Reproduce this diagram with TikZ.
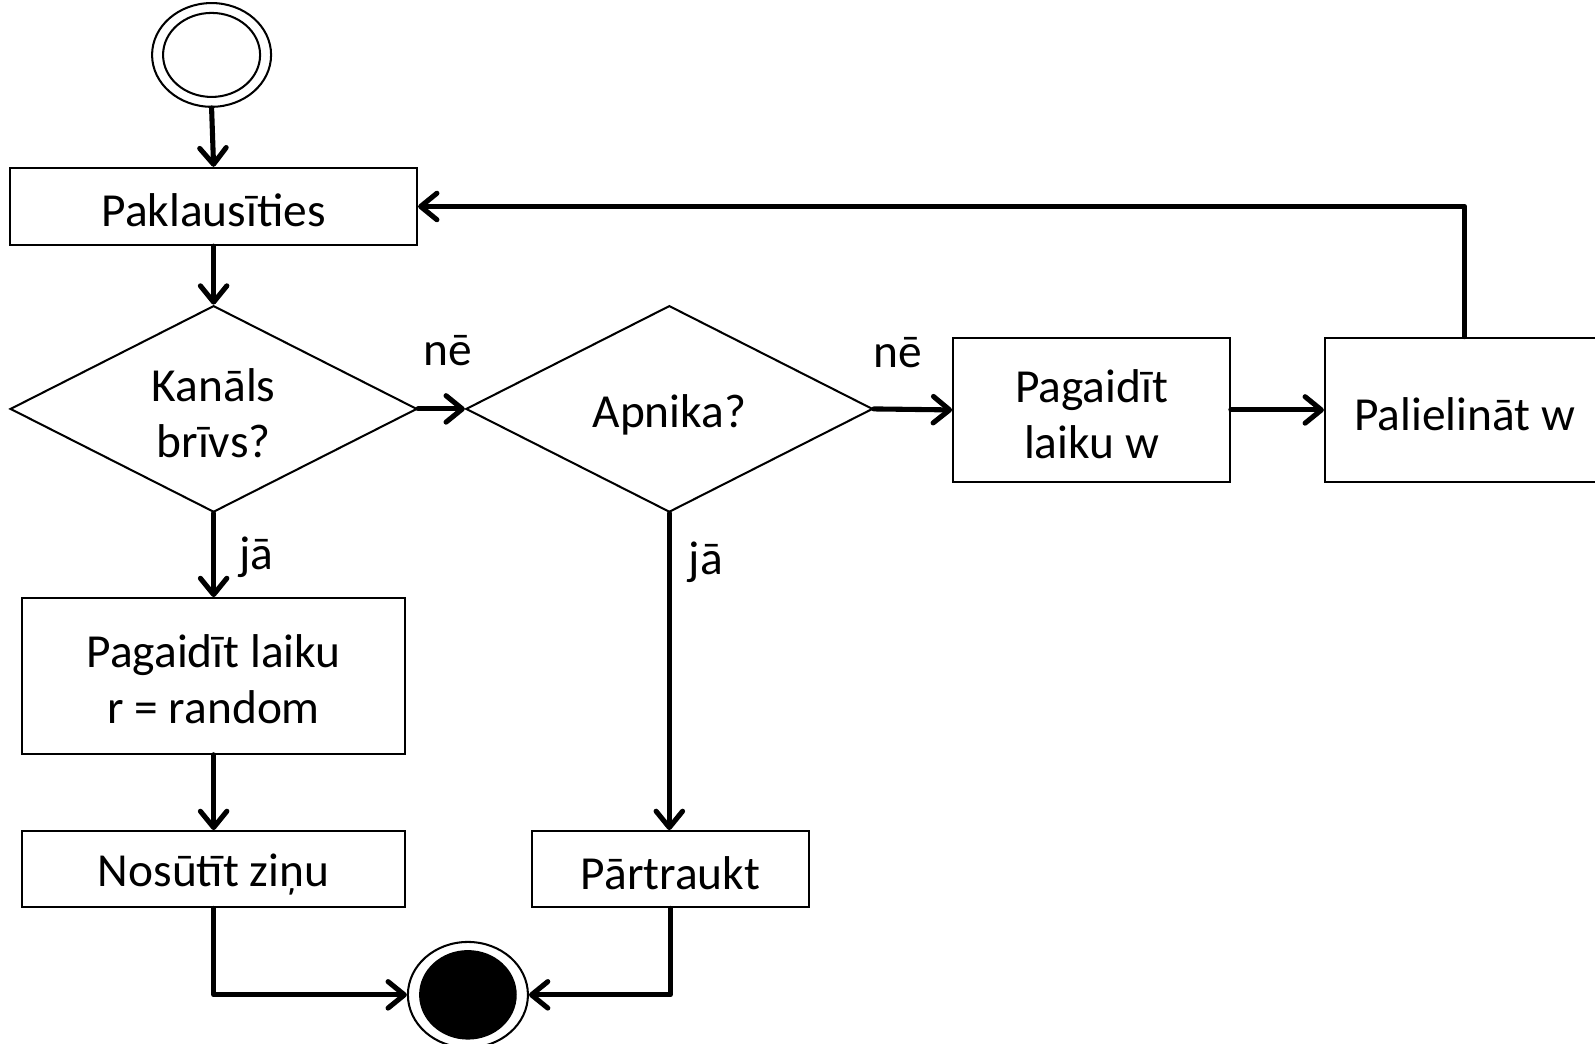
\documentclass[tikz,border=0pt]{standalone}
\usepackage{fontspec}
\setmainfont{Carlito}
\usetikzlibrary{shapes.geometric,arrows.meta}
\begin{document}
\begin{tikzpicture}[x=0.5pt,y=-0.5pt,
  every node/.style={font=\fontsize{23.3}{27.5}\selectfont, align=center},
  box/.style={draw, line width=1pt, rectangle, inner sep=0pt},
  dec/.style={draw, line width=1pt, diamond, inner sep=0pt, minimum width=200pt, minimum height=101.5pt},
  txt/.style={inner sep=0pt},
  flow/.style={line width=2.5pt, line cap=round, line join=round, -{Straight Barb[length=8pt,width=13pt,line cap=round,line join=round]}},
  lbl/.style={inner sep=0pt}]
\useasboundingbox (0,0) rectangle (1568,1026);
% start
\node[ellipse, draw, line width=1pt, minimum width=58.5pt, minimum height=51pt, inner sep=0pt] (start) at (208,54) {};
\node[ellipse, draw, line width=1pt, minimum width=47.7pt, minimum height=41.3pt, inner sep=0pt] (startin) at (208,54) {};
% boxes
\node[box, minimum width=200pt, minimum height=38pt] (pak) at (210,203) {};
\node[dec] (d1) at (210,402) {};
\node[dec] (d2) at (658,402) {};
\node[box, minimum width=136pt, minimum height=71pt] (bw) at (1073,403) {};
\node[box, minimum width=137.5pt, minimum height=71pt] (pw) at (1440,403) {};
\node[box, minimum width=188pt, minimum height=76.5pt] (rr) at (210,664.5) {};
\node[box, minimum width=188pt, minimum height=37.5pt] (ns) at (210,854.5) {};
\node[box, minimum width=136pt, minimum height=37.5pt] (pt) at (659,854.5) {};
% texts
\node[txt] (tpak) at ([yshift=-2pt]pak.center) {Paklausīties};
\node[txt] (td1) at ([yshift=-2pt]d1.center) {Kanāls\\brīvs?};
\node[txt] (td2) at ([yshift=-3pt]d2.center) {Apnika?};
\node[txt] (tbw) at ([yshift=-2pt]bw.center) {Pagaidīt\\laiku w};
\node[txt] (tpw) at ([yshift=-2pt]pw.center) {Palielināt w};
\node[txt] (trr) at ([yshift=-1.5pt]rr.center) {Pagaidīt laiku\\r = random};
\node[txt] (tns) at ([yshift=-2.5pt]ns.center) {Nosūtīt ziņu};
\node[txt] (tpt) at ([yshift=-2pt]pt.center) {Pārtraukt};
% end
\node[ellipse, draw, line width=1pt, minimum width=59pt, minimum height=52pt, inner sep=0pt] (end) at (460,978) {};
\node[ellipse, fill=black, minimum width=48pt, minimum height=44pt, inner sep=0pt] (endin) at (460,978) {};
% connectors
\draw[flow] (start.south) -- (pak.north);
\draw[flow] (pak.south) -- (d1.north);
\draw[flow] (d1.east) -- (d2.west);
\draw[flow] (d2.east) -- (bw.west);
\draw[flow] (bw.east) -- (pw.west);
\draw[flow] (pw.north) |- (pak.east);
\draw[flow] (d1.south) -- (rr.north);
\draw[flow] (rr.south) -- (ns.north);
\draw[flow] (d2.south) -- (pt.north -| d2.south);
\draw[flow] (ns.south) |- (end.west);
\draw[flow] (pt.south) |- (end.east);
% labels
\node[lbl] (l1) at (440,345) {nē};
\node[lbl] (l2) at (883,347) {nē};
\node[lbl] (l3) at (252,548) {jā};
\node[lbl] (l4) at (694,553) {jā};
\end{tikzpicture}
\end{document}
